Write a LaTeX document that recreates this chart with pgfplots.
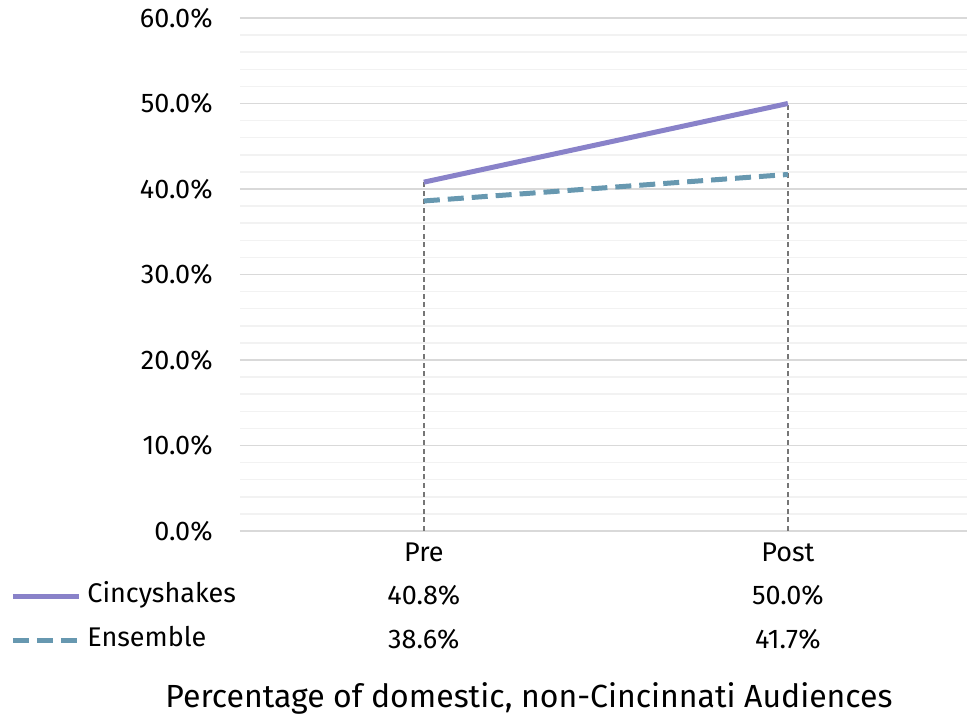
\documentclass[border=0pt]{standalone}
\usepackage{fontspec}
\setmainfont{Fira Sans}
\usepackage{pgfplots}
\pgfplotsset{compat=1.18}

\definecolor{cincy}{RGB}{137,130,201}
\definecolor{ensemble}{RGB}{103,152,176}
\definecolor{majgrid}{RGB}{217,217,217}
\definecolor{mingrid}{RGB}{242,242,242}
\definecolor{dropgray}{RGB}{118,118,118}

\begin{document}
\begin{tikzpicture}
\begin{axis}[
    scale only axis,
    width=363.5pt,
    height=256.5pt,
    xmin=-0.505, xmax=1.492,
    ymin=0, ymax=60,
    xtick={0,1},
    xticklabels={Pre,Post},
    ytick={0,10,...,60},
    minor ytick={2,4,...,58},
    ymajorgrids, yminorgrids,
    major grid style={majgrid, line width=0.75pt},
    minor grid style={mingrid, line width=0.75pt},
    axis line style={draw=none},
    major tick length=0pt,
    minor tick length=0pt,
    /pgf/number format/assume math mode=true,
    yticklabel={\pgfmathprintnumber[fixed,fixed zerofill,precision=1]{\tick}\%},
    yticklabel style={font=\fontsize{13.5}{16}\selectfont, inner sep=0pt, anchor=east, xshift=-13.5pt},
    xticklabel style={font=\fontsize{13.5}{16}\selectfont, inner sep=0pt, anchor=north, yshift=-5.5pt},
    clip=false,
    legend style={at={(axis description cs:0,0)}, anchor=north west,
        xshift=-115pt, yshift=-26.5pt, draw=none, fill=none, inner sep=0pt,
        row sep=10pt, column sep=3pt,
        nodes={font=\fontsize{13.5}{16}\selectfont, inner sep=0pt, text height=9pt, text depth=3pt}},
    legend cell align=left,
    legend image code/.code={\draw[#1] (0pt,0pt) -- (33pt,0pt);},
]
% drop lines
\addplot[ycomb, dropgray, line width=0.7pt, dash pattern=on 2.5pt off 1.8pt, forget plot]
    coordinates {(0,40.8) (1,50.0)};
\addplot[cincy, line width=2.5pt] coordinates {(0,40.8) (1,50.0)};
\addlegendentry{Cincyshakes}
\addplot[ensemble, line width=2.5pt, dash pattern=on 8pt off 4pt] coordinates {(0,38.6) (1,41.7)};
\addlegendentry{Ensemble}

% data table
\node[font=\fontsize{13.5}{16}\selectfont] at (axis cs:0,0) [yshift=-32pt] {40.8\%};
\node[font=\fontsize{13.5}{16}\selectfont] at (axis cs:1,0) [yshift=-32pt] {50.0\%};
\node[font=\fontsize{13.5}{16}\selectfont] at (axis cs:0,0) [yshift=-54pt] {38.6\%};
\node[font=\fontsize{13.5}{16}\selectfont] at (axis cs:1,0) [yshift=-54pt] {41.7\%};
\node[font=\fontsize{16}{19}\selectfont] at (axis description cs:0,0) [xshift=144.5pt, yshift=-83.5pt] {Percentage of domestic, non-Cincinnati Audiences};
\end{axis}
\pgfresetboundingbox
\path[use as bounding box] (-120pt,-92.5pt) rectangle (363.5pt,265.5pt);
\end{tikzpicture}
\end{document}
